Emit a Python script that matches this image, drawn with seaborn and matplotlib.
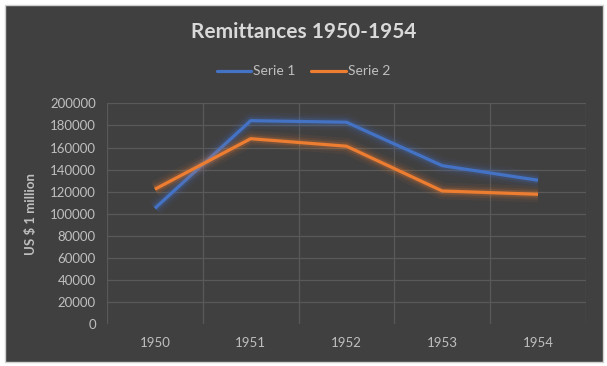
import matplotlib
matplotlib.use("Agg")
import matplotlib.pyplot as plt
import matplotlib.patheffects as pe
from matplotlib.patches import Rectangle
import pandas as pd
import seaborn as sns

years = ["1950", "1951", "1952", "1953", "1954"]
serie1 = [105000, 184300, 182900, 143600, 130400]
serie2 = [122300, 168000, 161200, 120700, 117700]

df = pd.DataFrame({"pos": list(range(len(years))) * 2,
                   "value": serie1 + serie2,
                   "serie": ["Serie 1"] * len(years) + ["Serie 2"] * len(years)})

sns.set_style("dark")
plt.rcParams["font.family"] = ["Lato", "DejaVu Sans"]

bg = "#404040"
txt = "#bfbfbf"
grid = "#595959"

fig = plt.figure(figsize=(6.07, 3.66), dpi=100, facecolor="white")
# dark chart area inside the spreadsheet
fig.patches.append(Rectangle((5 / 607, 4 / 366), 598 / 607, 357 / 366, transform=fig.transFigure,
                             facecolor=bg, edgecolor="#d0d0d0", lw=1, zorder=-5))

ax = fig.add_axes([0.1763, 0.1137, 0.789, 0.604])
ax.set_facecolor(bg)

palette = {"Serie 1": "#4472C4", "Serie 2": "#ED7D31"}
sns.lineplot(data=df, x="pos", y="value", hue="serie", palette=palette, linewidth=2.3, ax=ax, legend=False)

# soft glow around the lines
for line in ax.get_lines():
    c = line.get_color()
    line.set_path_effects([pe.Stroke(linewidth=12, foreground=c, alpha=0.06),
                           pe.Stroke(linewidth=8, foreground=c, alpha=0.1),
                           pe.Stroke(linewidth=5, foreground=c, alpha=0.2),
                           pe.Normal()])
    line.set_solid_capstyle("butt")

ax.set_xlim(-0.5, len(years) - 0.5)
ax.set_ylim(0, 200000)
ax.set_yticks(range(0, 200001, 20000))
ax.set_xticks(range(len(years)))
ax.set_xticklabels(years)
ax.set_xticks([i - 0.5 for i in range(len(years) + 1)], minor=True)
ax.grid(False)
ax.grid(True, axis="y", which="major", color=grid, lw=0.9)
ax.grid(True, axis="x", which="minor", color=grid, lw=0.9)
ax.yaxis.get_gridlines()[0].set_color("#474747")
ax.tick_params(axis="both", which="both", length=0, colors=txt, labelsize=9.5)
ax.tick_params(axis="x", pad=9)
ax.tick_params(axis="y", pad=8)
for s in ax.spines.values():
    s.set_visible(False)
ax.set_xlabel("")
ax.set_ylabel("US $ 1 million", color=txt, fontsize=9.5, fontweight="bold", labelpad=9)

fig.text(0.5, 0.913, "Remittances 1950-1954", ha="center", va="center",
         color="#d9d9d9", fontsize=15, fontweight="bold")

handles = [plt.Line2D([], [], color=palette[k], lw=2.3) for k in ["Serie 1", "Serie 2"]]
fig.legend(handles, ["Serie 1", "Serie 2"], loc="center", bbox_to_anchor=(0.5, 0.805), ncol=2,
           frameon=False, fontsize=10, labelcolor=txt, handlelength=2.5, handletextpad=0.15, columnspacing=1.1)

fig.savefig("out.png", dpi=100, facecolor="white")
